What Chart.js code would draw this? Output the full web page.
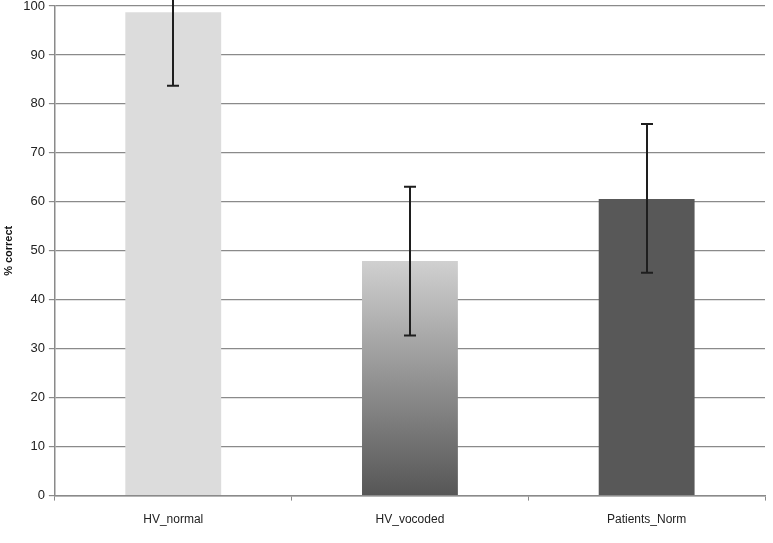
<!DOCTYPE html>
<html>
<head>
<meta charset="utf-8">
<script src="https://cdn.jsdelivr.net/npm/chart.js@4"></script>
<style>
  html, body { margin: 0; padding: 0; background: #fff; }
  #wrap { width: 773px; height: 543px; }
</style>
</head>
<body>
<div id="wrap"><canvas id="barChart" width="773" height="543"></canvas></div>
<script>
// data
const categories = ['HV_normal', 'HV_vocoded', 'Patients_Norm'];
const meanValues = [98.7, 47.9, 60.6];
const errLow = [83.7, 32.7, 45.5];
const errHigh = [113.7, 63.1, 75.9];
const yTicks = [0, 10, 20, 30, 40, 50, 60, 70, 80, 90, 100];

// error bars drawn after the bars
const errorBars = {
  id: 'errorBars',
  afterDatasetsDraw(chart) {
    const c = chart.ctx;
    const y = chart.scales.y;
    const meta = chart.getDatasetMeta(0);
    c.save();
    c.strokeStyle = '#1e1e1e';
    c.lineWidth = 2;
    meta.data.forEach((bar, i) => {
      const x = Math.round(bar.x);
      const top = y.getPixelForValue(errHigh[i]);
      const bot = y.getPixelForValue(errLow[i]);
      c.beginPath();
      c.moveTo(x, top);
      c.lineTo(x, bot);
      c.moveTo(x - 6, top);
      c.lineTo(x + 6, top);
      c.moveTo(x - 6, bot);
      c.lineTo(x + 6, bot);
      c.stroke();
    });
    c.restore();
  }
};

function barColor(context) {
  const i = context.dataIndex;
  if (i === 0) return '#dcdcdc';
  if (i === 2) return '#585858';
  const chart = context.chart;
  const area = chart.chartArea;
  if (!area) return '#999';
  const y = chart.scales.y;
  const top = y.getPixelForValue(meanValues[1]);
  const bot = y.getPixelForValue(0);
  const g = chart.ctx.createLinearGradient(0, top, 0, bot);
  g.addColorStop(0, '#d0d0d0');
  g.addColorStop(1, '#565656');
  return g;
}

const ctx = document.getElementById('barChart').getContext('2d');
new Chart(ctx, {
  type: 'bar',
  data: {
    labels: categories,
    datasets: [{
      data: meanValues,
      backgroundColor: barColor,
      borderWidth: 0,
      categoryPercentage: 1,
      barPercentage: 0.405
    }]
  },
  options: {
    responsive: false,
    animation: false,
    layout: { padding: { top: 6, right: 8, left: 2, bottom: 4 } },
    plugins: {
      legend: { display: false },
      tooltip: { enabled: false }
    },
    scales: {
      x: {
        grid: {
          display: true,
          drawOnChartArea: false,
          offset: true,
          tickLength: 5,
          color: '#8a8a8a'
        },
        border: { color: '#8a8a8a', width: 1.5 },
        ticks: {
          color: '#222',
          font: { family: 'Liberation Sans', size: 12 },
          padding: 12
        }
      },
      y: {
        min: 0,
        max: 100,
        afterBuildTicks(axis) {
          axis.ticks = yTicks.map(v => ({ value: v }));
        },
        afterFit(axis) {
          // let the top gridline sit close to the edge like the original
          axis.paddingTop = 0;
        },
        grid: { color: '#8a8a8a', lineWidth: 1.2, tickLength: 6 },
        border: { color: '#8a8a8a', width: 1.5 },
        ticks: {
          color: '#222',
          font: { family: 'Liberation Sans', size: 13 },
          padding: 4
        },
        title: {
          display: true,
          text: '% correct',
          color: '#111',
          font: { family: 'Liberation Sans', size: 11, weight: 'bold' },
          padding: { top: 0, bottom: 4 }
        }
      }
    }
  },
  plugins: [errorBars]
});
</script>
</body>
</html>
